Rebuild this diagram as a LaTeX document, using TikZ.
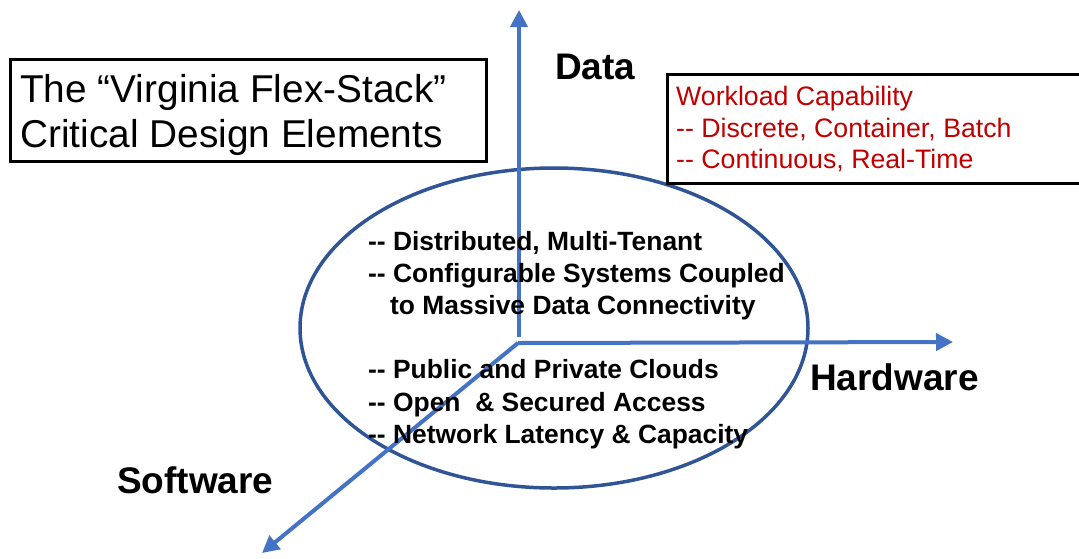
\documentclass[tikz,border=0pt]{standalone}
\usepackage{fontspec}
\setmainfont{Liberation Sans}
\usetikzlibrary{arrows.meta,shapes.geometric}
\definecolor{axisblue}{HTML}{4472C4}
\definecolor{ringblue}{HTML}{2F5597}
\definecolor{darkred}{HTML}{C00000}
\newcommand{\dd}{\mbox{-}\mbox{-}}
\tikzset{
  axis/.style={draw=axisblue, line width=4pt, -{Triangle[width=17pt,length=17pt]}},
  frame/.style={draw=black, line width=3pt, anchor=north west, inner sep=0pt},
  titletxt/.style={anchor=base west, inner sep=0pt, font=\fontsize{38.8}{45}\selectfont},
  redtxt/.style={anchor=base west, inner sep=0pt, text=darkred, font=\fontsize{26.7}{31}\selectfont},
  itemtxt/.style={anchor=base west, inner sep=0pt, font=\bfseries\fontsize{26.4}{32}\selectfont},
  axlabel/.style={anchor=base west, inner sep=0pt, font=\bfseries\fontsize{37}{42}\selectfont},
}
\begin{document}
\begin{tikzpicture}[x=1pt,y=-1pt]
\useasboundingbox (0,0) rectangle (1079,558);
\clip (0,0) rectangle (1079,558);
% ellipse
\node[draw=ringblue, line width=3.5pt, ellipse, minimum width=508, minimum height=320, inner sep=0pt] (ring) at (554,328) {};
% axes
\coordinate (O) at (518,343);
\coordinate (Ov) at (519,337);
\coordinate (Dtip) at (519,10);
\coordinate (Htip) at (953,342);
\coordinate (Stip) at (262,553);
\draw[axis] (Ov) -- (Dtip);
\draw[axis] (O) -- (Htip);
\draw[axis] (O) -- (Stip);
% axis labels
\node[axlabel] (data) at (555,79) {Data};
\node[axlabel] (hw) at (810,390) {Hardware};
\node[axlabel] (sw) at (117,493) {Software};
% title box
\node[frame, minimum width=476, minimum height=102] (titlebox) at (9,58) {};
\node[titletxt] (t1) at (20,102) {The “Virginia Flex-Stack”};
\node[titletxt] (t2) at (20,147) {Critical Design Elements};
% workload box
\node[frame, minimum width=430, minimum height=109] (wlbox) at (666,73) {};
\node[redtxt] (w1) at (676,105) {Workload Capability};
\node[redtxt] (w2) at (676,137) {\dd{} Discrete, Container, Batch};
\node[redtxt] (w3) at (676,168) {\dd{} Continuous, Real-Time};
% items
\node[itemtxt] (i1) at (368,250) {\dd{} Distributed, Multi-Tenant};
\node[itemtxt] (i2) at (368,282) {\dd{} Configurable Systems Coupled};
\node[itemtxt] (i3) at (390,314) {to Massive Data Connectivity};
\node[itemtxt] (i4) at (368,378) {\dd{} Public and Private Clouds};
\node[itemtxt] (i5) at (368,411) {\dd{} Open \ \& Secured Access};
\node[itemtxt] (i6) at (368,443) {\dd{} Network Latency \& Capacity};
\end{tikzpicture}
\end{document}
